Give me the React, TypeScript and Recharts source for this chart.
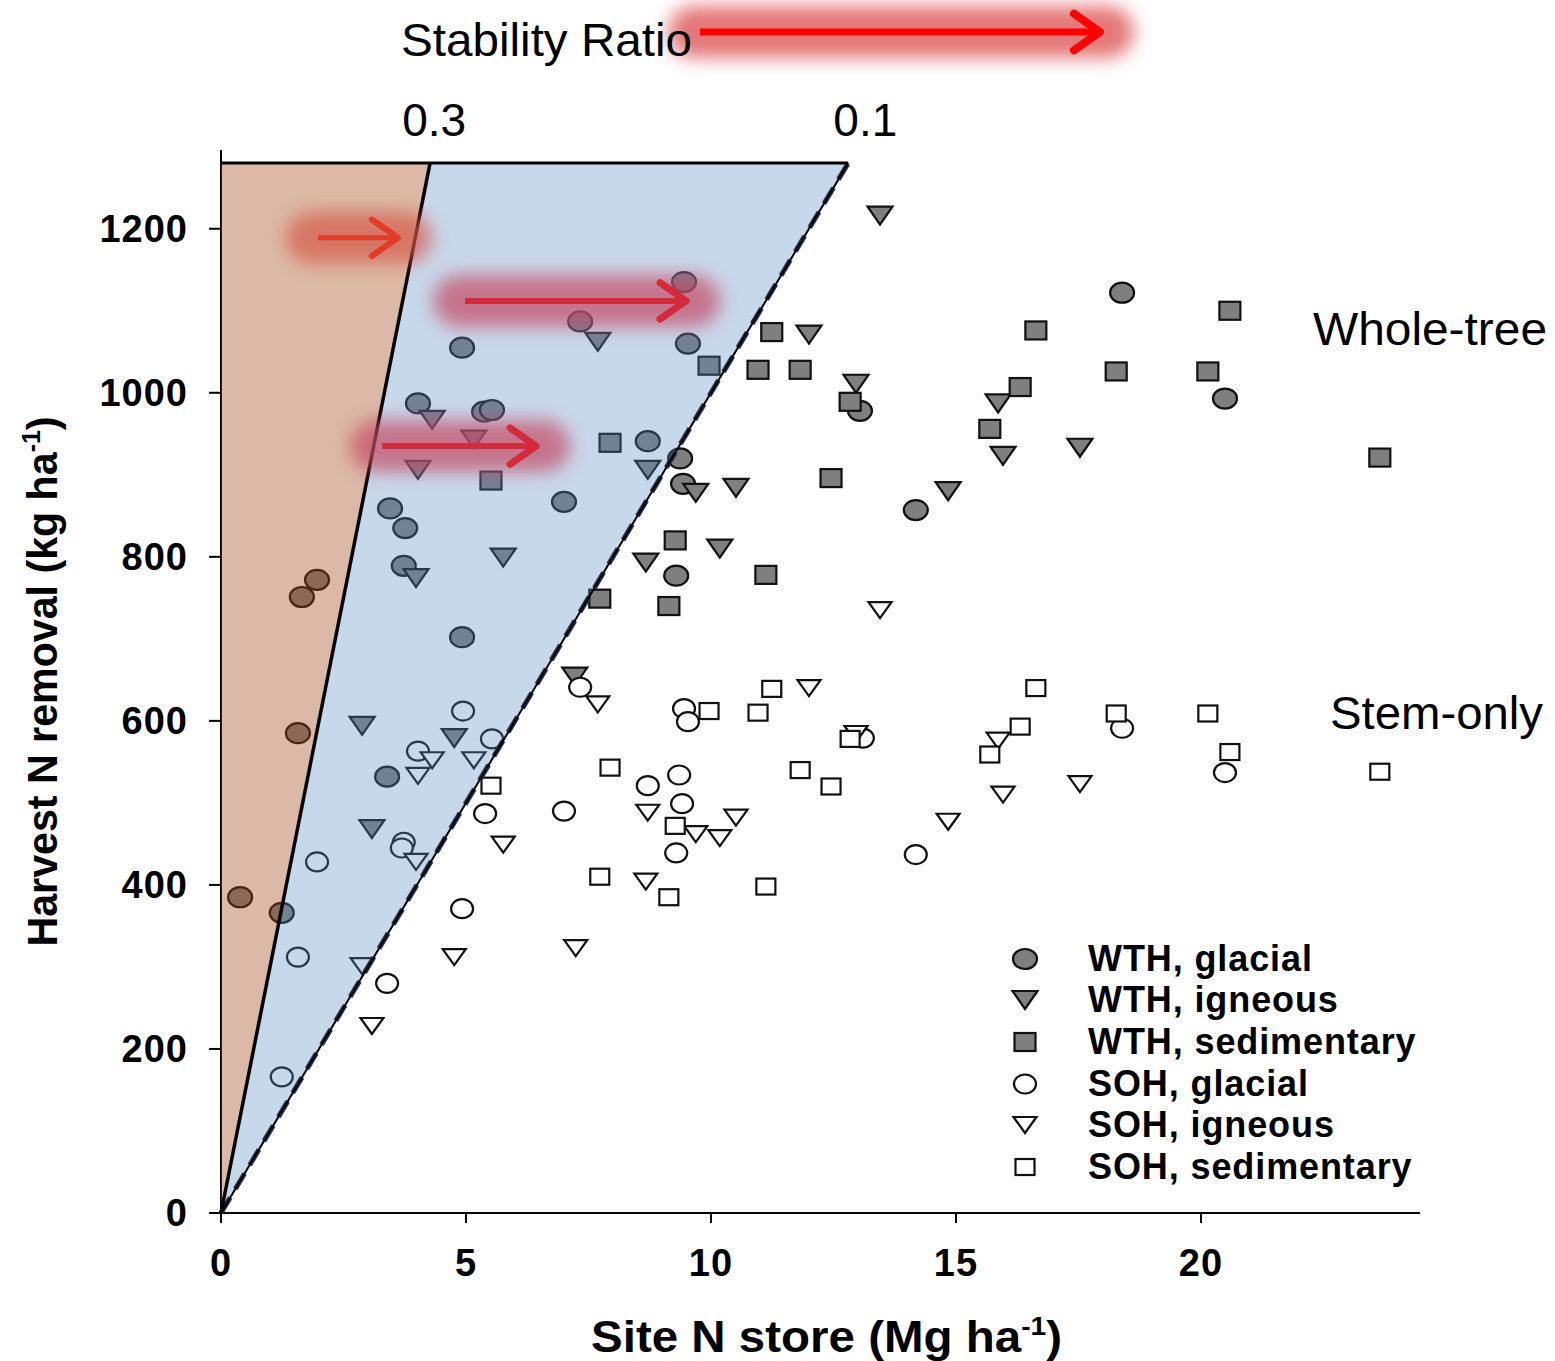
import {
  ComposedChart,
  Scatter,
  Area,
  XAxis,
  YAxis,
  ReferenceLine,
  ReferenceDot,
  Legend,
} from "recharts";

// [site N store (Mg/ha), harvest N removal (kg/ha)]
const WTH_GLACIAL = [
  [0.39, 385], [1.24, 366], [1.65, 751], [1.96, 772], [1.57, 585], [3.45, 859],
  [3.76, 835], [3.73, 789], [4.02, 987], [3.39, 532], [4.92, 1055], [5.37, 977],
  [5.53, 979], [4.92, 702], [7.33, 1087], [9.45, 1135], [9.53, 1060], [7.0, 867],
  [8.71, 941], [9.37, 920], [9.43, 889], [9.29, 777], [13.04, 978], [14.18, 857],
  [18.39, 1122], [20.49, 993],
];
const WTH_IGNEOUS = [
  [4.31, 967], [4.02, 906], [5.16, 943], [3.98, 774], [5.76, 799], [2.88, 594],
  [3.08, 468], [4.76, 579], [7.69, 1062], [8.71, 906], [9.69, 878], [10.51, 884],
  [10.18, 810], [8.67, 793], [7.22, 654], [13.45, 1216], [12.0, 1071], [12.96, 1011],
  [15.86, 987], [15.96, 923], [17.53, 933], [14.84, 880],
];
const WTH_SEDIMENTARY = [
  [5.51, 893], [7.94, 939], [9.96, 1033], [11.24, 1074], [10.96, 1028], [11.82, 1028],
  [12.84, 989], [16.63, 1076], [16.31, 1007], [15.69, 956], [18.27, 1026], [20.14, 1026],
  [20.59, 1100], [23.65, 921], [12.45, 896], [9.27, 820], [11.12, 778], [7.73, 749],
  [9.14, 740],
];
const SOH_GLACIAL = [
  [7.33, 641], [9.45, 615], [9.53, 599], [4.94, 612], [4.02, 563], [5.53, 578],
  [3.73, 452], [3.69, 445], [1.96, 428], [1.57, 312], [3.39, 280], [1.24, 166],
  [4.92, 371], [5.39, 487], [7.0, 490], [8.71, 521], [9.35, 534], [9.41, 499],
  [9.29, 439], [13.1, 579], [14.18, 437], [18.39, 591], [20.49, 537],
];
const SOH_IGNEOUS = [
  [4.31, 552], [4.02, 533], [5.16, 552], [3.98, 428], [5.76, 449], [2.88, 301],
  [3.08, 228], [4.76, 312], [7.69, 620], [7.24, 323], [8.67, 404], [8.71, 488],
  [9.69, 462], [10.18, 457], [10.51, 482], [12.0, 640], [12.96, 584], [13.45, 735],
  [15.86, 576], [15.96, 510], [17.53, 523], [14.84, 477],
];
const SOH_SEDIMENTARY = [
  [5.51, 521], [7.94, 543], [9.96, 612], [11.24, 639], [10.96, 610], [11.82, 540],
  [12.84, 578], [16.63, 640], [16.31, 593], [15.69, 559], [18.27, 609], [20.14, 609],
  [20.59, 562], [23.65, 538], [12.45, 520], [9.27, 472], [11.12, 398], [7.73, 410],
  [9.14, 385],
];

const X_TICKS = [0, 5, 10, 15, 20];
const Y_TICKS = [0, 200, 400, 600, 800, 1000, 1200];
const Y_TOP = 1280; // top of the shaded wedges
const RATIOS = [0.3, 0.1]; // harvest N / site N store
const RATIO_LABELS = ["0.3", "0.1"];
const RATIO_LABEL_X = [4.35, 13.15];

// red arrows inside the plot, in data units
const ARROWS = [
  { x1: 1.98, x2: 3.61, y: 1189, color: "#e23b26", glow: "#d65a48", w: 5 },
  { x1: 4.98, x2: 9.49, y: 1112, color: "#d42a3c", glow: "#c44a62", w: 6 },
  { x1: 3.29, x2: 6.43, y: 935, color: "#d42a3c", glow: "#c44a62", w: 6 },
];

const FONT = '"Liberation Sans", Arial, sans-serif';
const GREY = "#7f7f7f";

type Kind = "circle" | "triangle" | "square";
const SERIES: { name: string; data: number[][]; kind: Kind; filled: boolean }[] = [
  { name: "WTH, glacial", data: WTH_GLACIAL, kind: "circle", filled: true },
  { name: "WTH, igneous", data: WTH_IGNEOUS, kind: "triangle", filled: true },
  { name: "WTH, sedimentary", data: WTH_SEDIMENTARY, kind: "square", filled: true },
  { name: "SOH, glacial", data: SOH_GLACIAL, kind: "circle", filled: false },
  { name: "SOH, igneous", data: SOH_IGNEOUS, kind: "triangle", filled: false },
  { name: "SOH, sedimentary", data: SOH_SEDIMENTARY, kind: "square", filled: false },
];

const slope = (r: number) => r * 1000;
const xTop = RATIOS.map((r) => Y_TOP / slope(r));

// wedge polygons as range areas
const WEDGES = [
  { x: 0, brown: [0, Y_TOP], blue: [0, 0] },
  { x: xTop[0], brown: [Y_TOP, Y_TOP], blue: [slope(RATIOS[1]) * xTop[0], Y_TOP] },
  { x: xTop[1], blue: [Y_TOP, Y_TOP] },
];

function Marker({ cx, cy, kind, filled }: { cx: number; cy: number; kind: Kind; filled: boolean }) {
  const fill = filled ? GREY : "#fff";
  const sw = 2.2;
  if (kind === "circle") {
    const rx = filled ? 12 : 11;
    const ry = filled ? 10 : 9.5;
    return <ellipse cx={cx} cy={cy} rx={rx} ry={ry} fill={fill} stroke="#111" strokeWidth={sw} />;
  }
  if (kind === "square") {
    const w = filled ? 21 : 19;
    const h = filled ? 18 : 16;
    return <rect x={cx - w / 2} y={cy - h / 2} width={w} height={h} fill={fill} stroke="#111" strokeWidth={sw} />;
  }
  const w = filled ? 25 : 23;
  const h = filled ? 18 : 16;
  return (
    <polygon
      points={`${cx - w / 2},${cy - h / 2} ${cx + w / 2},${cy - h / 2} ${cx},${cy + h / 2}`}
      fill={fill}
      stroke="#111"
      strokeWidth={sw}
    />
  );
}

function GlowArrow(p: any) {
  const { x1, y1, x2, y2, color, glow, w, alpha = 0.7 } = p;
  if (x1 == null) return null;
  const head = 26;
  return (
    <g>
      <line x1={x1 - 6} y1={y1} x2={x2 + 8} y2={y2} stroke={glow} strokeOpacity={alpha}
        strokeWidth={52} strokeLinecap="round" filter="url(#glowBlur)" />
      <line x1={x1} y1={y1} x2={x2 - 2} y2={y2} stroke={color} strokeWidth={w} />
      <polyline points={`${x2 - head},${y2 - head * 0.7} ${x2},${y2} ${x2 - head},${y2 + head * 0.7}`}
        fill="none" stroke={color} strokeWidth={w + 1} strokeLinecap="round" strokeLinejoin="round" />
    </g>
  );
}

function LegendBox({ payload }: any) {
  const names = (payload || []).map((p: any) => p.value);
  const items = SERIES.filter((s) => names.includes(s.name));
  return (
    <div style={{ fontFamily: FONT, fontWeight: 700, fontSize: 36, letterSpacing: 0.9, color: "#000" }}>
      {items.map((s) => (
        <div key={s.name} style={{ display: "flex", alignItems: "center", height: 41.6 }}>
          <svg width={50} height={40} style={{ flex: "none" }}>
            <Marker cx={25} cy={20} kind={s.kind} filled={s.filled} />
          </svg>
          <span style={{ marginLeft: 38, whiteSpace: "nowrap", lineHeight: 1 }}>{s.name}</span>
        </div>
      ))}
    </div>
  );
}

function XTitle({ viewBox }: any) {
  const { x, y, width } = viewBox;
  return (
    <text x={x + width / 2 + 6} y={y + 139} textAnchor="middle" fontFamily={FONT} fontWeight={700}
      fontSize={44} textLength={471} lengthAdjust="spacingAndGlyphs">
      Site N store (Mg ha
      <tspan dy={-17} fontSize={26}>-1</tspan>
      <tspan dy={17}>)</tspan>
    </text>
  );
}

function YTitle({ viewBox }: any) {
  const { y, height } = viewBox;
  const cx = 57;
  const cy = y + height / 2;
  return (
    <text x={cx} y={cy} transform={`rotate(-90 ${cx} ${cy})`} textAnchor="middle" fontFamily={FONT}
      fontWeight={700} fontSize={43} textLength={530} lengthAdjust="spacingAndGlyphs">
      Harvest N removal (kg ha
      <tspan dy={-17} fontSize={26}>-1</tspan>
      <tspan dy={17}>)</tspan>
    </text>
  );
}

export default function App() {
  const tick = { fontFamily: FONT, fontWeight: 700, fontSize: 38, letterSpacing: 1, fill: "#000" };
  return (
    <div style={{ position: "absolute", left: 0, top: 0, width: 1555, height: 1361, background: "#fff" }}>
      <svg width={0} height={0} style={{ position: "absolute" }}>
        <defs>
          <filter id="glowBlur" filterUnits="userSpaceOnUse" x={-200} y={-200} width={2000} height={1800}>
            <feGaussianBlur stdDeviation={9} />
          </filter>
        </defs>
      </svg>

      <svg width={1555} height={140} style={{ position: "absolute", left: 0, top: 0 }}>
        <GlowArrow x1={700} y1={32} x2={1100} y2={32} color="#ff0000" glow="#dc4a4a" w={7} alpha={0.75} />
        <text x={401} y={56} fontFamily={FONT} fontSize={46} textLength={291} lengthAdjust="spacingAndGlyphs">
          Stability Ratio
        </text>
      </svg>

      <ComposedChart
        width={1555}
        height={1361}
        data={WEDGES}
        margin={{ top: 150, right: 135, bottom: 88, left: 100 }}
        style={{ position: "absolute", left: 0, top: 0 }}
      >
        <XAxis
          type="number"
          dataKey="x"
          domain={[0, 24.47]}
          ticks={X_TICKS}
          allowDataOverflow
          height={60}
          tick={tick}
          tickSize={10}
          tickMargin={26}
          stroke="#000"
          strokeWidth={2}
          label={{ content: XTitle }}
        />
        <YAxis
          type="number"
          domain={[0, 1296]}
          ticks={Y_TICKS}
          allowDataOverflow
          width={121}
          tick={tick}
          tickSize={12}
          tickMargin={21}
          stroke="#000"
          strokeWidth={2}
          label={{ content: YTitle }}
        />

        {SERIES.map((s) => (
          <Scatter
            key={s.name}
            name={s.name}
            data={s.data.map(([x, y]) => ({ x, y }))}
            dataKey="y"
            isAnimationActive={false}
            shape={(p: any) => <Marker cx={p.cx} cy={p.cy} kind={s.kind} filled={s.filled} />}
          />
        ))}

        <Area
          type="linear"
          dataKey="brown"
          fill="rgb(160,70,20)"
          fillOpacity={0.38}
          stroke="none"
          legendType="none"
          isAnimationActive={false}
          zIndex={700}
        />
        <Area
          type="linear"
          dataKey="blue"
          fill="rgb(89,138,193)"
          fillOpacity={0.33}
          stroke="none"
          legendType="none"
          isAnimationActive={false}
          zIndex={700}
        />

        <ReferenceLine
          segment={[{ x: 0, y: 0 }, { x: xTop[1], y: Y_TOP }]}
          stroke="#25344d"
          strokeWidth={5}
          strokeDasharray="18 10"
          zIndex={800}
        />
        <ReferenceLine segment={[{ x: 0, y: 0 }, { x: xTop[1], y: Y_TOP }]} stroke="#000" strokeWidth={2} zIndex={800} />
        <ReferenceLine segment={[{ x: 0, y: 0 }, { x: xTop[0], y: Y_TOP }]} stroke="#000" strokeWidth={3.5} zIndex={800} />
        <ReferenceLine segment={[{ x: 0, y: Y_TOP }, { x: xTop[1], y: Y_TOP }]} stroke="#000" strokeWidth={3} zIndex={800} />

        {ARROWS.map((a, i) => (
          <ReferenceLine
            key={i}
            segment={[{ x: a.x1, y: a.y }, { x: a.x2, y: a.y }]}
            zIndex={900}
            shape={(p: any) => <GlowArrow {...p} color={a.color} glow={a.glow} w={a.w} />}
          />
        ))}

        {RATIO_LABELS.map((t, i) => (
          <ReferenceDot
            key={t}
            x={RATIO_LABEL_X[i]}
            y={Y_TOP}
            r={0}
            stroke="none"
            ifOverflow="visible"
            label={{ value: t, position: "top", offset: 27, fontFamily: FONT, fontSize: 46, fill: "#000" }}
          />
        ))}

        <Legend
          layout="vertical"
          align="center"
          verticalAlign="middle"
          content={LegendBox}
          wrapperStyle={{ position: "absolute", left: 1000, top: 938, width: 450, height: 260 }}
        />
      </ComposedChart>

      <svg width={1555} height={1361} style={{ position: "absolute", left: 0, top: 0, pointerEvents: "none" }}>
        <text x={1313} y={345} fontFamily={FONT} fontSize={46} textLength={234} lengthAdjust="spacingAndGlyphs">
          Whole-tree
        </text>
        <text x={1330} y={729} fontFamily={FONT} fontSize={46} textLength={213} lengthAdjust="spacingAndGlyphs">
          Stem-only
        </text>
      </svg>
    </div>
  );
}
